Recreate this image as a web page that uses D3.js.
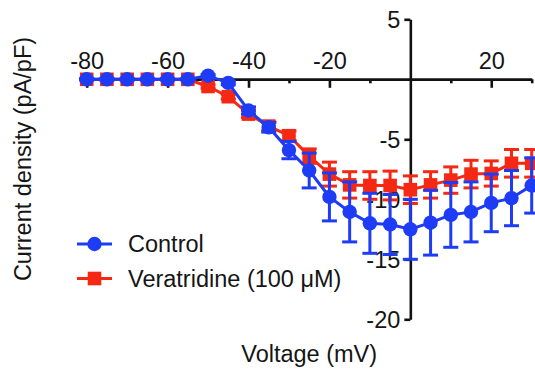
<!DOCTYPE html>
<html>
<head>
<meta charset="utf-8">
<script src="https://cdn.jsdelivr.net/npm/d3@7"></script>
<style>
  html, body { margin: 0; padding: 0; background: #fff; }
  svg { display: block; }
  text { font-family: "Liberation Sans", Arial, Helvetica, sans-serif; fill: #151515; }
</style>
</head>
<body>
<svg id="chart" width="535" height="374"></svg>
<script>
// ---- data ----
const voltage = [-80, -75, -70, -65, -60, -55, -50, -45, -40, -35, -30, -25, -20, -15, -10, -5, 0, 5, 10, 15, 20, 25, 30];
const controlMean = [0, 0, 0, 0, 0, 0, 0.3, -0.3, -2.6, -4.0, -5.9, -7.6, -9.8, -11.05, -12.0, -12.1, -12.5, -11.95, -11.3, -11.05, -10.3, -9.9, -8.85];
const controlSEM  = [0.05, 0.05, 0.05, 0.05, 0.05, 0.05, 0.1, 0.15, 0.3, 0.4, 0.72, 1.45, 2.0, 2.5, 2.5, 2.5, 2.5, 2.7, 2.7, 2.5, 2.4, 2.3, 2.3];
const veraMean = [0, 0, 0, 0, 0, 0, -0.6, -1.45, -2.9, -3.9, -4.7, -6.4, -7.9, -8.8, -8.85, -8.85, -9.2, -8.8, -8.4, -7.9, -7.85, -7.0, -7.0];
const veraSEM  = [0.05, 0.05, 0.05, 0.05, 0.05, 0.05, 0.15, 0.2, 0.3, 0.35, 0.4, 0.6, 1.0, 1.1, 1.15, 1.2, 1.15, 1.1, 1.1, 1.15, 1.05, 1.15, 1.15];
const xMajorTicks = [-80, -60, -40, -20, 20];
const xMinorTicks = [-70, -50, -30, -10, 10, 30];
const yTicks = [5, -5, -10, -15, -20];
const seriesNames = ["Control", "Veratridine (100 μM)"];
const xTitle = "Voltage (mV)";
const yTitle = "Current density (pA/pF)";

// ---- layout ----
const BLUE = "#1e3cf5", RED = "#f52814";
const svg = d3.select("#chart");
const x = d3.scaleLinear().domain([-80, 30]).range([86.7, 531.7]);
const y = d3.scaleLinear().domain([5, -20]).range([19.3, 319.3]);
const FS = 23.5;

// axes
const fmt = d => d < 0 ? "-" + Math.abs(d) : String(d);
const xAxisMinor = d3.axisTop(x).tickValues(xMinorTicks).tickSizeInner(-4).tickSizeOuter(0).tickFormat("");
const xAxisMajor = d3.axisTop(x).tickValues(xMajorTicks).tickSizeInner(-8.5).tickSizeOuter(0).tickPadding(10).tickFormat(fmt);
const yAxis = d3.axisLeft(y).tickValues(yTicks).tickSizeInner(6).tickSizeOuter(0).tickPadding(4).tickFormat(fmt);

function styleAxis(g) {
  g.select(".domain").attr("stroke", "#111").attr("stroke-width", 2.6);
  g.selectAll(".tick line").attr("stroke", "#111").attr("stroke-width", 2.6);
  g.selectAll(".tick text").style("font-size", FS + "px").style("font-family", '"Liberation Sans", Arial, sans-serif').attr("fill", "#151515");
}
const gxMinor = svg.append("g").attr("transform", `translate(0,${y(0)})`).call(xAxisMinor);
styleAxis(gxMinor);
const gx = svg.append("g").attr("transform", `translate(0,${y(0)})`).call(xAxisMajor);
styleAxis(gx);
const gy = svg.append("g").attr("transform", `translate(${x(0)},0)`).call(yAxis);
styleAxis(gy);
gy.selectAll(".tick text").attr("dy", "0.36em");

// titles
svg.append("text").attr("x", (x(-80) + x(30)) / 2).attr("y", 361.5)
  .attr("text-anchor", "middle").style("font-size", FS + "px").text(xTitle);
svg.append("text").attr("transform", "translate(31,159) rotate(-90)")
  .attr("text-anchor", "middle").style("font-size", FS + "px").text(yTitle);

// series drawing
function drawSeries(means, sems, color, shape) {
  const pts = voltage.map((v, i) => ({ v, m: means[i], s: sems[i] }));
  const g = svg.append("g");
  g.append("path").datum(pts)
    .attr("d", d3.line().x(d => x(d.v)).y(d => y(d.m)))
    .attr("fill", "none").attr("stroke", color).attr("stroke-width", 3);
  const eb = g.append("g").attr("stroke", color).attr("stroke-width", 3);
  pts.forEach(d => {
    eb.append("line").attr("x1", x(d.v)).attr("x2", x(d.v)).attr("y1", y(d.m + d.s)).attr("y2", y(d.m - d.s));
    eb.append("line").attr("x1", x(d.v) - 7.5).attr("x2", x(d.v) + 7.5).attr("y1", y(d.m + d.s)).attr("y2", y(d.m + d.s));
    eb.append("line").attr("x1", x(d.v) - 7.5).attr("x2", x(d.v) + 7.5).attr("y1", y(d.m - d.s)).attr("y2", y(d.m - d.s));
  });
  if (shape === "circle") {
    g.selectAll("circle").data(pts).join("circle")
      .attr("cx", d => x(d.v)).attr("cy", d => y(d.m)).attr("r", 7.2).attr("fill", color);
  } else {
    g.selectAll("rect").data(pts).join("rect")
      .attr("x", d => x(d.v) - 6.8).attr("y", d => y(d.m) - 6.8).attr("width", 13.6).attr("height", 13.6).attr("fill", color);
  }
}
drawSeries(veraMean, veraSEM, RED, "square");
drawSeries(controlMean, controlSEM, BLUE, "circle");

// legend
const legend = svg.append("g");
const legendItems = [
  { name: seriesNames[0], color: BLUE, shape: "circle", cy: 244 },
  { name: seriesNames[1], color: RED, shape: "square", cy: 278.5 }
];
legendItems.forEach(it => {
  legend.append("line").attr("x1", 77).attr("x2", 112).attr("y1", it.cy).attr("y2", it.cy)
    .attr("stroke", it.color).attr("stroke-width", 3);
  if (it.shape === "circle") {
    legend.append("circle").attr("cx", 94.5).attr("cy", it.cy).attr("r", 7.2).attr("fill", it.color);
  } else {
    legend.append("rect").attr("x", 87.7).attr("y", it.cy - 6.8).attr("width", 13.6).attr("height", 13.6).attr("fill", it.color);
  }
  legend.append("text").attr("x", 128).attr("y", it.cy).attr("dy", "0.36em")
    .style("font-size", FS + "px").text(it.name);
});
</script>
</body>
</html>
